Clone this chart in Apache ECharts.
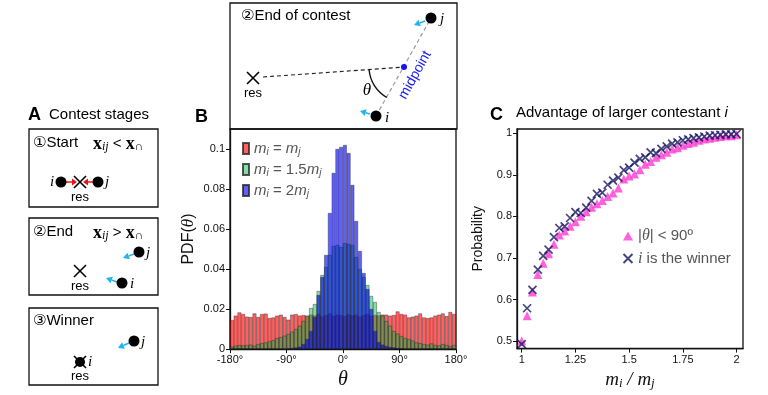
<!DOCTYPE html>
<html><head><meta charset="utf-8">
<script src="https://cdn.jsdelivr.net/npm/echarts@6/dist/echarts.min.js"></script>
<style>html,body{margin:0;padding:0;background:#fff}#c{width:768px;height:395px}</style>
</head><body><div id="c"></div>
<script>
// ---------- data ----------
const binCenters = [-177,-171,-165,-159,-153,-147,-141,-135,-129,-123,
  -117,-111,-105,-99,-93,-87,-81,-75,-69,-63,
  -57,-51,-45,-39,-33,-27,-21,-15,-9,-3,
  3,9,15,21,27,33,39,45,51,57,
  63,69,75,81,87,93,99,105,111,117,
  123,129,135,141,147,153,159,165,171,177];
const pdfEqual = [0.0145,0.0167,0.0183,0.0175,0.0162,0.0160,0.0178,0.0160,0.0175,0.0177,
  0.0155,0.0158,0.0167,0.0172,0.0160,0.0147,0.0172,0.0175,0.0167,0.0170,
  0.0165,0.0172,0.0168,0.0175,0.0163,0.0170,0.0178,0.0166,0.0172,0.0169,
  0.0165,0.0174,0.0168,0.0171,0.0163,0.0170,0.0176,0.0166,0.0170,0.0168,
  0.0172,0.0172,0.0167,0.0170,0.0188,0.0175,0.0172,0.0158,0.0162,0.0167,
  0.0178,0.0158,0.0155,0.0158,0.0167,0.0172,0.0178,0.0165,0.0185,0.0175];
const pdf15 = [0.0012,0.0017,0.0020,0.0018,0.0020,0.0022,0.0016,0.0025,0.0030,0.0033,
  0.0038,0.0045,0.0055,0.0060,0.0067,0.0075,0.0087,0.0100,0.0117,0.0140,
  0.0167,0.0205,0.0225,0.0290,0.0370,0.0410,0.0470,0.0515,0.0520,0.0510,
  0.0530,0.0525,0.0520,0.0460,0.0400,0.0360,0.0320,0.0265,0.0235,0.0185,
  0.0167,0.0140,0.0117,0.0090,0.0077,0.0065,0.0055,0.0050,0.0042,0.0033,
  0.0030,0.0025,0.0022,0.0028,0.0020,0.0018,0.0025,0.0020,0.0015,0.0020];
const pdf2 = [0,0,0,0,0,0,0,0,0,0,
  0,0,0,0,0,0.0003,0.0005,0.0008,0.0012,0.0025,
  0.0050,0.0090,0.0160,0.0270,0.0360,0.0470,0.0680,0.0880,0.1000,0.1010,
  0.1020,0.0980,0.0820,0.0640,0.0490,0.0380,0.0300,0.0200,0.0090,0.0035,
  0.0022,0.0015,0.0010,0.0008,0.0005,0.0003,0,0,0,0,
  0,0,0,0,0,0,0,0,0,0];
const thetaTicks = [-180,-90,0,90,180];
const pdfTicks = [0,0.02,0.04,0.06,0.08,0.1];

const massRatio = [1,1.025,1.05,1.075,1.1,1.125,1.15,1.175,1.2,1.225,
  1.25,1.275,1.3,1.325,1.35,1.375,1.4,1.425,1.45,1.475,
  1.5,1.525,1.55,1.575,1.6,1.625,1.65,1.675,1.7,1.725,
  1.75,1.775,1.8,1.825,1.85,1.875,1.9,1.925,1.95,1.975,2];
const probTheta = [0.500,0.561,0.618,0.660,0.687,0.710,0.733,0.755,0.765,0.776,
  0.787,0.800,0.811,0.822,0.830,0.838,0.848,0.856,0.868,0.890,
  0.897,0.902,0.912,0.925,0.932,0.942,0.948,0.954,0.962,0.965,
  0.971,0.975,0.978,0.983,0.986,0.988,0.990,0.992,0.994,0.994,0.996];
const probWinner = [0.493,0.579,0.623,0.672,0.705,0.720,0.750,0.772,0.776,0.796,
  0.810,0.808,0.821,0.837,0.854,0.857,0.876,0.886,0.893,0.911,
  0.917,0.929,0.938,0.942,0.954,0.952,0.962,0.968,0.975,0.978,
  0.983,0.985,0.988,0.990,0.992,0.994,0.995,0.996,0.997,0.997,0.998];
const ratioTicks = [1,1.25,1.5,1.75,2];
const probTicks = [0.5,0.6,0.7,0.8,0.9,1];

// ---------- styling helpers ----------
const SANS = '"Liberation Sans", Arial, "DejaVu Sans", "Noto Sans CJK JP", sans-serif';
const SERIF = '"Liberation Serif", "DejaVu Serif", serif';
const CYAN = '#22b4ee';
const G = [];
function txt(x, y, text, o) {
  G.push({type:'text', x:x, y:y, z:10, style:Object.assign({text:text, fontFamily:SANS, fontSize:15, fill:'#000', align:'left', verticalAlign:'middle'}, o||{})});
}
function rect(x,y,w,h,lw){ G.push({type:'rect', shape:{x:x,y:y,width:w,height:h}, style:{fill:'none', stroke:'#111', lineWidth:lw||1.3}}); }
function dot(x,y,r,c){ G.push({type:'circle', z:5, shape:{cx:x,cy:y,r:r||5.5}, style:{fill:c||'#000'}}); }
function line(x1,y1,x2,y2,c,lw,dash){ G.push({type:'line', z:4, shape:{x1:x1,y1:y1,x2:x2,y2:y2}, style:{stroke:c||'#000', lineWidth:lw||1.2, lineDash:dash||null}}); }
function cross(x,y,h){ line(x-h,y-h,x+h,y+h,'#000',1.6); line(x-h,y+h,x+h,y-h,'#000',1.6); }
function arrow(x1,y1,x2,y2,c,lw,hl,hw){
  const a = Math.atan2(y2-y1,x2-x1), ca=Math.cos(a), sa=Math.sin(a);
  const bx = x2-hl*ca, by = y2-hl*sa;
  line(x1,y1,bx,by,c,lw);
  G.push({type:'polygon', z:6, shape:{points:[[x2,y2],[bx-hw*sa,by+hw*ca],[bx+hw*sa,by-hw*ca]]}, style:{fill:c}});
}
const mathRich = {
  bx:{fontFamily:SERIF, fontWeight:'bold', fontSize:18, lineHeight:18},
  sub:{fontFamily:SERIF, fontStyle:'italic', fontSize:12, lineHeight:8, verticalAlign:'bottom'},
  op:{fontFamily:SANS, fontSize:15, lineHeight:18}
};
const ij = {fontFamily:SERIF, fontStyle:'italic', fontSize:15};

// ---------- panel A ----------
txt(28,115,'A',{fontWeight:'bold', fontSize:18});
txt(49,115,'Contest stages');
rect(29,129,129,78); rect(29,218,129,77); rect(29,308,129,77);
txt(33,143,'①Start');
txt(93,144,'{bx|x}{sub|ij}{op| < }{bx|x}{sub|∩}',{rich:mathRich});
txt(50,182,'i',ij); dot(61,182,5.5); dot(98,182,5.5); txt(105,182,'j',ij);
arrow(66,182,77,182,'#f01010',1.5,5,3.5); arrow(93,182,83,182,'#f01010',1.5,5,3.5);
cross(80,182,6); txt(80,197,'res',{align:'center', fontSize:13});
txt(33,232,'②End');
txt(93,233,'{bx|x}{sub|ij}{op| > }{bx|x}{sub|∩}',{rich:mathRich});
dot(139,252,5.5); txt(146,253,'j',ij); arrow(134,254,123,258,CYAN,1.5,6,3.5);
cross(80,271,6); txt(80,286,'res',{align:'center', fontSize:13});
dot(122,283,5.5); txt(130,284,'i',ij); arrow(117,282,106,278,CYAN,1.5,6,3.5);
txt(33,321,'③Winner');
dot(134,341,5.5); txt(141,342,'j',ij); arrow(129,343,118,348,CYAN,1.5,6,3.5);
dot(80,362,5); cross(80,362,6); txt(88,362,'i',ij);
txt(80,376,'res',{align:'center', fontSize:13});

// ---------- panel B schematic ----------
txt(195,117,'B',{fontWeight:'bold', fontSize:18});
rect(230,3,227,126);
txt(241,16,'②End of contest');
cross(253,78,6); txt(253,93,'res',{align:'center', fontSize:13});
line(263,77,404,67,'#222',1.2,[4,3]);
line(376,116,431,18,'#9a9a9a',1.2,[4,3]);
dot(404,67,3,'#1515ee');
dot(431,18,5.5); txt(440,19,'j',ij); arrow(425,21,414,25,CYAN,1.5,6,3.5);
dot(376,116,5.5); txt(385,118,'i',ij); arrow(370,114,360,111,CYAN,1.5,6,3.5);
G.push({type:'arc', z:4, shape:{cx:404, cy:67, r:35, startAngle:119.5*Math.PI/180, endAngle:175*Math.PI/180, clockwise:true}, style:{stroke:'#111', lineWidth:1.4, fill:'none'}});
txt(367,91,'θ',{fontFamily:SERIF, fontStyle:'italic', fontSize:17, align:'center'});
G.push({type:'text', x:415, y:75, rotation:1.06, z:10, style:{text:'midpoint', fontFamily:SANS, fontSize:14, fill:'#2020ee', align:'center', verticalAlign:'middle'}});

// ---------- panel C title ----------
txt(490,115,'C',{fontWeight:'bold', fontSize:18});
txt(516,113,'Advantage of larger contestant {it|i}',{rich:{it:{fontStyle:'italic', fontFamily:SANS, fontSize:15}}});

// ---------- legend rich ----------
const legRich = {
  m:{fontFamily:SANS, fontStyle:'italic', fontSize:15, lineHeight:18},
  t:{fontFamily:SANS, fontSize:15, lineHeight:18},
  s:{fontFamily:SANS, fontStyle:'italic', fontSize:10, lineHeight:8, verticalAlign:'bottom'},
  th:{fontFamily:SERIF, fontStyle:'italic', fontSize:16, lineHeight:18},
  mi:{fontFamily:SERIF, fontStyle:'italic', fontSize:16, lineHeight:18}
};
const legendText = {
  'eq':'{m|m}{s|i}{t| = }{m|m}{s|j}',
  'r15':'{m|m}{s|i}{t| = 1.5}{m|m}{s|j}',
  'r2':'{m|m}{s|i}{t| = 2}{m|m}{s|j}',
  'theta':'{t||}{th|θ}{t|| < 90º}',
  'winner':'{mi|i}{t| is the winner}'
};

const barEdge = {borderColor:'rgba(30,30,30,0.75)', borderWidth:0.5};
const axisLineStyle = {show:true, onZero:false, lineStyle:{color:'#111', width:1.3}};
const option = {
  animation:false,
  backgroundColor:'#fff',
  textStyle:{fontFamily:SANS},
  grid:[
    {left:230, top:129, width:226, height:226, show:true, borderColor:'#111', borderWidth:1.3, backgroundColor:'transparent'},
    {left:517, top:129, width:226, height:227, show:true, borderColor:'#111', borderWidth:1.3, backgroundColor:'transparent'}
  ],
  xAxis:[
    {type:'category', gridIndex:0, data:binCenters, boundaryGap:true, show:false, position:'bottom'},
    {type:'value', gridIndex:0, min:-180, max:180, interval:90, position:'bottom',
      axisLine:axisLineStyle,
      axisTick:{show:true, inside:false, length:4, lineStyle:{color:'#111'}},
      splitLine:{show:false},
      axisLabel:{formatter:function(v){return v+'°';}, fontSize:11, color:'#111', margin:5, fontFamily:SANS},
      name:'θ', nameLocation:'middle', nameGap:15,
      nameTextStyle:{fontFamily:SERIF, fontStyle:'italic', fontSize:20, color:'#111', verticalAlign:'top'}},
    {type:'value', gridIndex:1, min:0.978, max:2.03, position:'bottom',
      axisLine:axisLineStyle,
      axisTick:{show:true, length:4, customValues:ratioTicks, lineStyle:{color:'#111'}},
      splitLine:{show:false},
      axisLabel:{customValues:ratioTicks, fontSize:11, color:'#111', margin:6, fontFamily:SANS},
      name:'{m|m}{s|i}{t| / }{m|m}{s|j}', nameLocation:'middle', nameGap:17,
      nameTextStyle:{verticalAlign:'top', rich:{
        m:{fontFamily:SERIF, fontStyle:'italic', fontSize:19, lineHeight:20},
        t:{fontFamily:SERIF, fontStyle:'italic', fontSize:19, lineHeight:20},
        s:{fontFamily:SERIF, fontStyle:'italic', fontSize:13, lineHeight:10, verticalAlign:'bottom'}}}}
  ],
  yAxis:[
    {type:'value', gridIndex:0, min:0, max:0.11, position:'left',
      axisLine:axisLineStyle,
      axisTick:{show:true, length:4, customValues:pdfTicks, lineStyle:{color:'#111'}},
      splitLine:{show:false},
      axisLabel:{customValues:pdfTicks, fontSize:11, color:'#111', margin:5, fontFamily:SANS},
      name:'PDF({t|θ})', nameLocation:'middle', nameGap:33,
      nameTextStyle:{fontFamily:SANS, fontSize:16, color:'#111', rich:{t:{fontFamily:SERIF, fontStyle:'italic', fontSize:17}}}},
    {type:'value', gridIndex:1, min:0.482, max:1.010, position:'left',
      axisLine:axisLineStyle,
      axisTick:{show:true, length:4, customValues:probTicks, lineStyle:{color:'#111'}},
      splitLine:{show:false},
      axisLabel:{customValues:probTicks, fontSize:11, color:'#111', margin:5, fontFamily:SANS},
      name:'Probability', nameLocation:'middle', nameGap:32,
      nameTextStyle:{fontFamily:SANS, fontSize:14, color:'#111'}}
  ],
  legend:[
    {data:['eq','r15','r2'], orient:'vertical', left:237, top:136, itemWidth:6, itemHeight:11, itemGap:4.5, itemTextGap:6, icon:'rect',
      formatter:function(n){return legendText[n];}, textStyle:{rich:legRich}},
    {data:['theta','winner'], orient:'vertical', left:616, top:223, itemWidth:10, itemHeight:9, itemGap:6.5, itemTextGap:5,
      formatter:function(n){return legendText[n];}, textStyle:{rich:legRich}}
  ],
  series:[
    {name:'eq', type:'bar', xAxisIndex:0, yAxisIndex:0, data:pdfEqual, barGap:'-100%', barCategoryGap:0,
      itemStyle:Object.assign({color:'rgba(255,0,0,0.62)'}, barEdge)},
    {name:'r15', type:'bar', xAxisIndex:0, yAxisIndex:0, data:pdf15, barGap:'-100%', barCategoryGap:0,
      itemStyle:Object.assign({color:'rgba(0,185,70,0.48)'}, barEdge)},
    {name:'r2', type:'bar', xAxisIndex:0, yAxisIndex:0, data:pdf2, barGap:'-100%', barCategoryGap:0,
      itemStyle:Object.assign({color:'rgba(0,0,245,0.62)'}, barEdge)},
    {name:'theta', type:'scatter', xAxisIndex:2, yAxisIndex:1, symbol:'triangle', symbolSize:9,
      data:massRatio.map(function(m,i){return [m, probTheta[i]];}),
      itemStyle:{color:'#ff3ad4'}},
    {name:'winner', type:'scatter', xAxisIndex:2, yAxisIndex:1, symbol:'path://M0,0L10,10M10,0L0,10', symbolSize:8,
      data:massRatio.map(function(m,i){return [m, probWinner[i]];}),
      itemStyle:{color:'none', borderColor:'#15155e', borderWidth:1.7}}
  ],
  graphic:G
};
const chart = echarts.init(document.getElementById('c'), null, {renderer:'canvas'});
chart.setOption(option);
</script>
</body></html>
